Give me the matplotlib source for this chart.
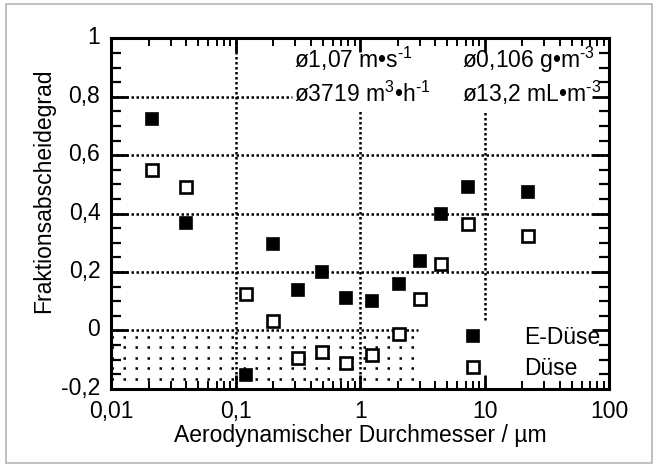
import matplotlib
matplotlib.use("Agg")
import matplotlib.pyplot as plt
from matplotlib.patches import Rectangle
from matplotlib.ticker import LogLocator, MultipleLocator, NullFormatter
from matplotlib.transforms import ScaledTranslation

plt.rcParams['font.family'] = ['Liberation Sans', 'DejaVu Sans']
plt.rcParams['mathtext.fontset'] = 'custom'
plt.rcParams['mathtext.rm'] = 'Liberation Sans'
plt.rcParams['mathtext.it'] = 'Liberation Sans:italic'
plt.rcParams['mathtext.bf'] = 'Liberation Sans:bold'

# ---- data ----
diam = [0.021, 0.040, 0.120, 0.200, 0.315, 0.49, 0.77, 1.25, 2.03, 3.04, 4.48, 7.35, 22.3]
e_duese = [0.725, 0.367, -0.152, 0.295, 0.140, 0.200, 0.111, 0.102, 0.158, 0.238, 0.399, 0.490, 0.473]
duese = [0.549, 0.492, 0.124, 0.033, -0.093, -0.072, -0.112, -0.085, -0.013, 0.106, 0.228, 0.365, 0.325]
series_labels = ["E-Düse", "Düse"]

x_ticks = [0.01, 0.1, 1, 10, 100]
x_tick_labels = ["0,01", "0,1", "1", "10", "100"]
y_ticks = [-0.2, 0, 0.2, 0.4, 0.6, 0.8, 1.0]
y_tick_labels = ["-0,2", "0", "0,2", "0,4", "0,6", "0,8", "1"]

xlabel = "Aerodynamischer Durchmesser / µm"
ylabel = "Fraktionsabscheidegrad"
ann_left = ["ø1,07 m•s$^{\\text{-}1}$", "ø3719 m$^{3}$•h$^{\\text{-}1}$"]
ann_right = ["ø0,106 g•m$^{\\text{-}3}$", "ø13,2 mL•m$^{\\text{-}3}$"]

FS = 16.5

fig = plt.figure(figsize=(6.57, 4.68), dpi=100)
ax = fig.add_axes([0.1696, 0.169, 0.7578, 0.7492])

# outer grey frame
fig.patches.append(Rectangle((0.0084, 0.0107), 0.984, 0.981, transform=fig.transFigure,
                             fill=False, edgecolor='#b5b5b5', linewidth=1.2, zorder=0))

ax.set_xscale('log')
ax.set_xlim(0.01, 100)
ax.set_ylim(-0.2, 1.0)

dot = (0, (1, 1))
gkw = dict(color='black', linewidth=1.8, linestyle=dot, zorder=1)
# horizontal gridlines
for yv in [0.2, 0.4, 0.6]:
    ax.hlines(yv, 0.01, 100, **gkw)
ax.hlines(0.8, 0.01, 0.28, **gkw)
ax.hlines(0.0, 0.01, 2.9, **gkw)
# vertical gridlines
ax.vlines(0.1, -0.2, 1.0, **gkw)
ax.vlines(1.0, -0.2, 0.75, **gkw)
ax.vlines(10.0, 0.035, 0.75, **gkw)
# dotted pattern below zero
for yv in [-0.021, -0.057, -0.093, -0.128, -0.165]:
    ax.hlines(yv, 0.01, 2.9, color='black', linewidth=1.8, linestyle=(0, (1, 3.8)), zorder=1)

ax.plot(diam, e_duese, linestyle='none', marker='s', markersize=9,
        markerfacecolor='black', markeredgecolor='black', markeredgewidth=1.2,
        label=series_labels[0], zorder=3)
ax.plot(diam, duese, linestyle='none', marker='s', markersize=8.6,
        markerfacecolor='white', markeredgecolor='black', markeredgewidth=1.9,
        label=series_labels[1], zorder=3)

leg = ax.legend(loc='center left', bbox_to_anchor=(0.703, 0.1015), frameon=False,
                fontsize=FS, handlelength=1.0, handletextpad=1.75, labelspacing=0.35,
                borderpad=0, borderaxespad=0, numpoints=1)
leg.set_zorder(4)

# ticks
ax.set_xticks(x_ticks)
ax.set_xticklabels(x_tick_labels, fontsize=FS)
ax.xaxis.set_minor_locator(LogLocator(base=10, subs=range(2, 10), numticks=20))
ax.xaxis.set_minor_formatter(NullFormatter())
ax.set_yticks(y_ticks)
ax.set_yticklabels(y_tick_labels, fontsize=FS)
ax.yaxis.set_minor_locator(MultipleLocator(0.05))

ax.tick_params(axis='both', which='both', direction='in', top=True, right=True, color='black')
ax.tick_params(axis='y', which='major', length=12, width=2.0, pad=8)
ax.tick_params(axis='y', which='minor', length=7, width=1.6)
ax.tick_params(axis='x', which='major', length=10, width=2.0, pad=8)
ax.tick_params(axis='x', which='minor', length=5.5, width=1.4)

shift_up = ScaledTranslation(0, 3 / 100, fig.dpi_scale_trans)
for lab in ax.get_yticklabels():
    lab.set_transform(lab.get_transform() + shift_up)

for sp in ax.spines.values():
    sp.set_linewidth(2.2)
    sp.set_zorder(5)

ax.set_xlabel(xlabel, fontsize=FS, labelpad=1)
fig.text(44 / 657, 1 - 191 / 468, ylabel, rotation=90, ha='center', va='center', fontsize=FS)

# annotations
ax.text(0.367, 0.915, ann_left[0], transform=ax.transAxes, fontsize=FS, ha='left', va='baseline')
ax.text(0.367, 0.819, ann_left[1], transform=ax.transAxes, fontsize=FS, ha='left', va='baseline')
ax.text(0.704, 0.915, ann_right[0], transform=ax.transAxes, fontsize=FS, ha='left', va='baseline')
ax.text(0.704, 0.819, ann_right[1], transform=ax.transAxes, fontsize=FS, ha='left', va='baseline')

fig.savefig('out.png', dpi=100)
